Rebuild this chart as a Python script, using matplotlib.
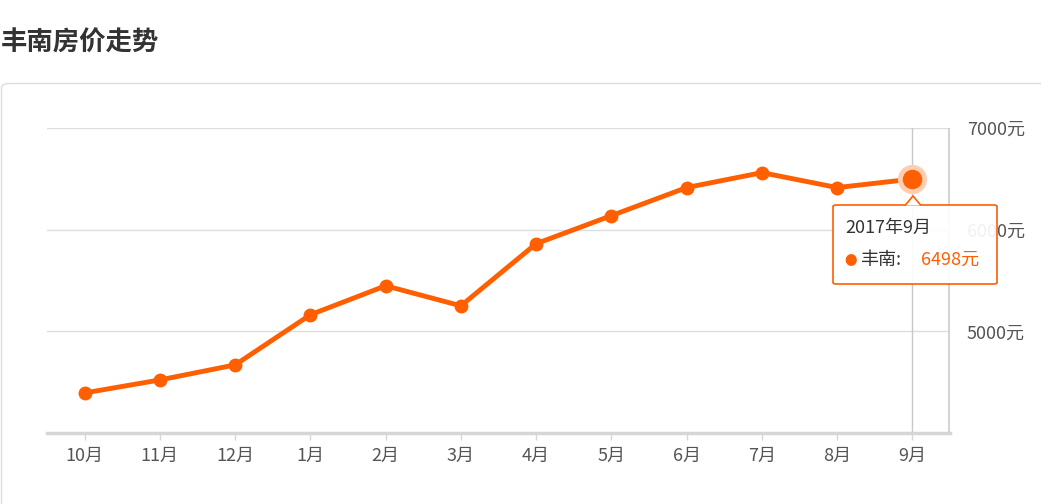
import matplotlib
matplotlib.use('Agg')
import matplotlib.pyplot as plt
from matplotlib.patches import FancyBboxPatch, Polygon

plt.rcParams['font.family'] = ['Noto Sans CJK SC', 'DejaVu Sans']

months = ["10月", "11月", "12月", "1月", "2月", "3月", "4月", "5月", "6月", "7月", "8月", "9月"]
prices = [4394, 4522, 4670, 5163, 5448, 5251, 5862, 6138, 6414, 6561, 6414, 6498]
y_ticks = [5000, 6000, 7000]
y_labels = ["5000元", "6000元", "7000元"]
title = "丰南房价走势"
tip_title = "2017年9月"
series_name = "丰南"

W, H = 1041, 504
fig = plt.figure(figsize=(W / 100, H / 100), dpi=100)

orange = '#ff5f00'
grid_c = '#dddddd'
text_c = '#555555'

# title
fig.text(1 / W, 1 - 43 / H, title, fontsize=19, fontweight='bold', color='#333333', va='center', ha='left')

# panel border with rounded corner
panel = FancyBboxPatch((1.5 / W, -0.1), 1.2, 1 - 83.5 / H + 0.1,
                       boxstyle="round,pad=0,rounding_size=0.008",
                       transform=fig.transFigure, facecolor='none', edgecolor='#dcdcdc',
                       linewidth=1, zorder=0)
fig.patches.append(panel)

ax = fig.add_axes([47 / W, 1 - 433 / H, (950 - 47) / W, (433 - 128) / H])
ax.set_facecolor('none')
x = list(range(len(months)))
ax.set_xlim(-0.5, len(months) - 0.5)
ax.set_ylim(4000, 7000)

for v in y_ticks:
    ax.axhline(v, color=grid_c, linewidth=1, zorder=1)
ax.axvline(len(months) - 0.5 - 0.01, color='#cccccc', linewidth=1.2, zorder=1)
# crosshair
ax.axvline(x[-1], color='#c8c8c8', linewidth=1, zorder=1)

for s in ['top', 'left', 'right']:
    ax.spines[s].set_visible(False)
ax.spines['bottom'].set_color('#d6d6d6')
ax.spines['bottom'].set_linewidth(2.5)

ax.plot(x, prices, color=orange, linewidth=3.5, marker='o', markersize=9,
        markerfacecolor=orange, markeredgecolor=orange, zorder=3, solid_capstyle='round')
# highlighted last point
ax.plot(x[-1], prices[-1], 'o', markersize=20, color='#ffcdb0', zorder=4)
ax.plot(x[-1], prices[-1], 'o', markersize=13, color=orange, zorder=5)

ax.set_xticks(x)
ax.set_xticklabels(months)
ax.tick_params(axis='x', length=5, width=1, color='#d6d6d6', labelsize=13, labelcolor=text_c, pad=5)
ax.yaxis.tick_right()
ax.set_yticks(y_ticks)
ax.set_yticklabels(y_labels)
ax.tick_params(axis='y', length=0, labelsize=13, labelcolor=text_c, pad=12)

# tooltip
bx0, by0, bx1, by1 = 833, 205, 997, 284
tip = FancyBboxPatch((bx0 / W, 1 - by1 / H), (bx1 - bx0) / W, (by1 - by0) / H,
                     boxstyle="round,pad=0,rounding_size=0.003",
                     transform=fig.transFigure, facecolor=(1, 1, 1, 0.92),
                     edgecolor=orange, linewidth=1.2, zorder=10)
fig.patches.append(tip)
arrow = Polygon([((905) / W, 1 - 205.5 / H), (913 / W, 1 - 196 / H), (921 / W, 1 - 205.5 / H)],
                closed=False, transform=fig.transFigure, facecolor='white',
                edgecolor=orange, linewidth=1.2, zorder=11)
fig.patches.append(arrow)
fig.text(845 / W, 1 - 228 / H, tip_title, fontsize=13, color='#333333', va='center', zorder=12)
fig.text(844 / W, 1 - 261 / H, "●", fontsize=9, color=orange, va='center', zorder=12)
fig.text(860 / W, 1 - 260 / H, series_name + ":", fontsize=13, color='#333333', va='center', zorder=12)
fig.text(921 / W, 1 - 260 / H, f"{prices[-1]}元", fontsize=13, color=orange, va='center', zorder=12)

fig.savefig('out.png', dpi=100)
